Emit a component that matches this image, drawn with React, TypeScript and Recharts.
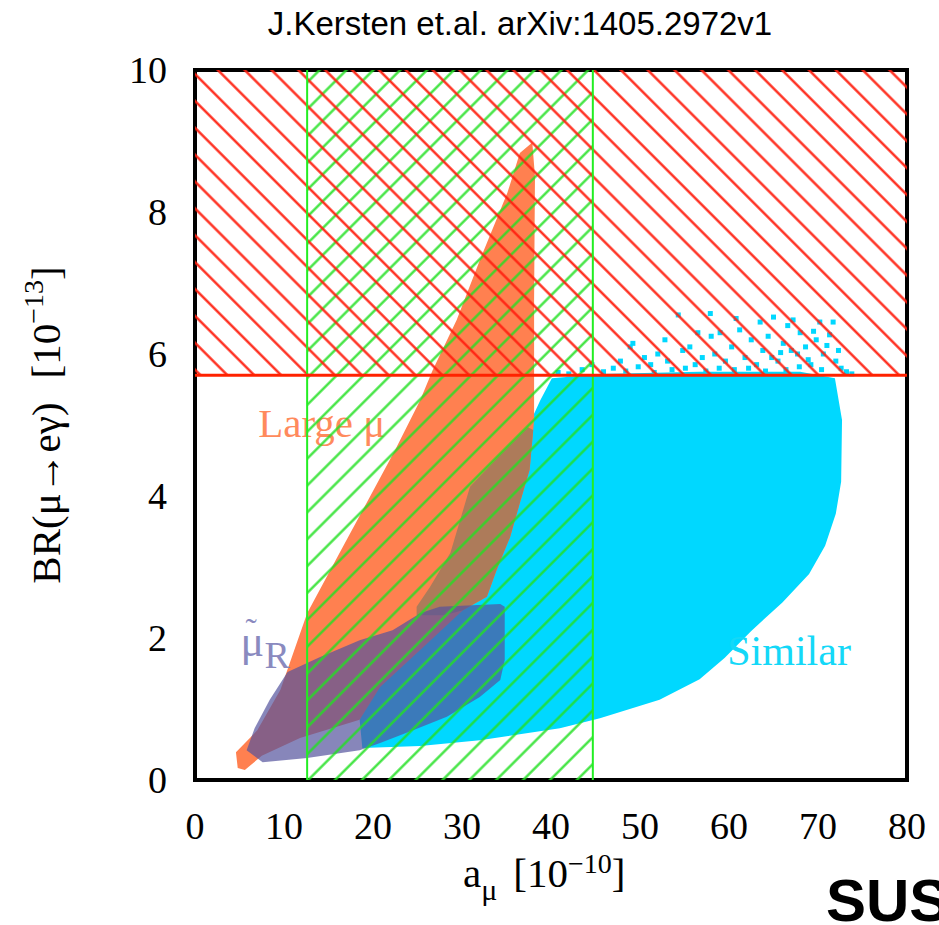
import { Scatter, ScatterChart, XAxis, YAxis } from "recharts";

// axis ticks
const xTicks = [0, 10, 20, 30, 40, 50, 60, 70, 80];
const yTicks = [0, 2, 4, 6, 8, 10];

// experimental bounds
const brLimit = 5.7; // MEG bound on BR(mu -> e gamma), 10^-13
const amuBand = [12.6, 44.7]; // 2 sigma band for a_mu, 10^-10

// scan regions, outlines (a_mu, BR)
const similarRegion = [
  { x: 37.4, y: 4.97 }, { x: 38.8, y: 5.35 }, { x: 40.1, y: 5.66 }, { x: 45.5, y: 5.72 },
  { x: 56.7, y: 5.75 }, { x: 68.0, y: 5.75 }, { x: 71.9, y: 5.66 }, { x: 72.7, y: 5.07 },
  { x: 72.6, y: 4.2 }, { x: 72.0, y: 3.75 }, { x: 70.8, y: 3.3 }, { x: 69.0, y: 2.9 },
  { x: 66.0, y: 2.5 }, { x: 62.5, y: 2.1 }, { x: 59.5, y: 1.72 }, { x: 56.7, y: 1.42 },
  { x: 52.2, y: 1.13 }, { x: 45.5, y: 0.87 }, { x: 41.0, y: 0.73 }, { x: 32.0, y: 0.56 },
  { x: 25.3, y: 0.48 }, { x: 18.8, y: 0.45 }, { x: 18.5, y: 0.85 }, { x: 19.7, y: 1.27 },
  { x: 22.2, y: 1.83 }, { x: 24.9, y: 2.44 }, { x: 26.4, y: 2.72 }, { x: 28.7, y: 3.2 },
  { x: 30.9, y: 4.13 }, { x: 34.3, y: 4.58 },
];

const largeMuRegion = [
  { x: 4.8, y: 0.17 }, { x: 4.6, y: 0.39 }, { x: 7.0, y: 0.7 }, { x: 9.6, y: 1.27 },
  { x: 12.6, y: 2.35 }, { x: 16.3, y: 3.21 }, { x: 19.7, y: 4.0 }, { x: 22.5, y: 4.65 },
  { x: 25.3, y: 5.35 }, { x: 26.7, y: 5.77 }, { x: 29.4, y: 6.48 }, { x: 32.0, y: 7.32 },
  { x: 35.1, y: 8.27 }, { x: 36.5, y: 8.83 }, { x: 37.9, y: 8.98 }, { x: 38.2, y: 8.5 },
  { x: 38.1, y: 6.76 }, { x: 38.1, y: 5.07 }, { x: 37.6, y: 4.37 }, { x: 36.5, y: 3.9 },
  { x: 35.4, y: 3.42 }, { x: 33.9, y: 2.96 }, { x: 32.8, y: 2.58 }, { x: 30.1, y: 2.39 },
  { x: 25.3, y: 1.83 }, { x: 20.8, y: 1.31 }, { x: 18.5, y: 0.85 }, { x: 11.8, y: 0.59 },
  { x: 7.5, y: 0.34 }, { x: 5.6, y: 0.14 },
];

// where Large mu lies on top of Similar
const overlapRegion = [
  { x: 37.4, y: 4.97 }, { x: 38.0, y: 4.93 }, { x: 37.6, y: 4.37 }, { x: 36.5, y: 3.9 },
  { x: 35.4, y: 3.42 }, { x: 33.9, y: 2.96 }, { x: 32.8, y: 2.58 }, { x: 30.1, y: 2.39 },
  { x: 28.0, y: 2.32 }, { x: 24.9, y: 2.32 }, { x: 24.9, y: 2.44 }, { x: 26.4, y: 2.72 },
  { x: 28.7, y: 3.2 }, { x: 30.9, y: 4.13 }, { x: 34.3, y: 4.58 },
];

const muRRegion = [
  { x: 5.8, y: 0.42 }, { x: 7.6, y: 0.25 }, { x: 12.6, y: 0.31 }, { x: 18.5, y: 0.42 },
  { x: 20.8, y: 0.52 }, { x: 24.5, y: 0.7 }, { x: 28.3, y: 0.89 }, { x: 32.0, y: 1.17 },
  { x: 34.3, y: 1.41 }, { x: 34.8, y: 1.69 }, { x: 34.8, y: 2.44 }, { x: 34.3, y: 2.48 },
  { x: 27.5, y: 2.44 }, { x: 25.3, y: 2.35 }, { x: 22.2, y: 2.11 }, { x: 18.5, y: 1.97 },
  { x: 14.0, y: 1.73 }, { x: 10.4, y: 1.52 }, { x: 8.4, y: 1.13 }, { x: 6.7, y: 0.73 },
];

// loose Similar points above the bound
const similarSpray = [
  { x: 40.8, y: 5.74 }, { x: 42.0, y: 5.72 }, { x: 43.5, y: 5.78 }, { x: 44.6, y: 5.85 },
  { x: 45.9, y: 5.75 }, { x: 47.0, y: 5.8 }, { x: 47.8, y: 5.9 }, { x: 48.4, y: 5.76 },
  { x: 48.9, y: 6.1 }, { x: 49.2, y: 6.15 }, { x: 49.8, y: 5.82 }, { x: 50.5, y: 5.95 },
  { x: 51.2, y: 5.85 }, { x: 51.6, y: 5.74 }, { x: 52.0, y: 6.0 }, { x: 52.8, y: 6.2 },
  { x: 53.1, y: 5.9 }, { x: 53.6, y: 5.78 }, { x: 54.3, y: 6.55 }, { x: 54.8, y: 6.05 },
  { x: 55.1, y: 5.8 }, { x: 55.6, y: 6.1 }, { x: 56.2, y: 5.85 }, { x: 56.5, y: 6.3 },
  { x: 57.0, y: 5.95 }, { x: 57.4, y: 5.76 }, { x: 57.9, y: 6.57 }, { x: 58.0, y: 6.25 },
  { x: 58.4, y: 6.0 }, { x: 58.9, y: 5.8 }, { x: 59.0, y: 6.3 }, { x: 59.6, y: 5.9 },
  { x: 60.3, y: 6.1 }, { x: 60.6, y: 5.78 }, { x: 60.8, y: 6.5 }, { x: 61.2, y: 6.34 },
  { x: 61.8, y: 5.95 }, { x: 62.2, y: 5.8 }, { x: 62.5, y: 6.2 }, { x: 63.1, y: 5.85 },
  { x: 63.5, y: 6.45 }, { x: 63.8, y: 6.05 }, { x: 64.1, y: 5.76 }, { x: 64.4, y: 6.25 },
  { x: 64.8, y: 5.95 }, { x: 65.0, y: 6.52 }, { x: 65.5, y: 5.9 }, { x: 65.8, y: 6.02 },
  { x: 66.1, y: 6.15 }, { x: 66.4, y: 5.78 }, { x: 66.6, y: 6.4 }, { x: 67.0, y: 6.05 },
  { x: 67.2, y: 6.48 }, { x: 67.7, y: 6.0 }, { x: 67.9, y: 5.82 }, { x: 68.0, y: 6.3 },
  { x: 68.6, y: 6.1 }, { x: 68.9, y: 5.92 }, { x: 69.2, y: 5.85 }, { x: 69.5, y: 6.32 },
  { x: 69.8, y: 6.2 }, { x: 70.2, y: 6.45 }, { x: 70.4, y: 5.78 }, { x: 70.6, y: 6.0 },
  { x: 71.0, y: 6.12 }, { x: 71.3, y: 6.27 }, { x: 71.7, y: 6.45 }, { x: 72.0, y: 5.9 },
  { x: 72.3, y: 6.05 }, { x: 72.6, y: 5.8 }, { x: 73.2, y: 5.75 }, { x: 73.8, y: 5.72 },
];

const largeMuLabel = [{ x: 7.1, y: 4.83 }];
const muRLabel = [{ x: 5.1, y: 1.75 }];
const similarLabel = [{ x: 59.8, y: 1.62 }];

const xMin = xTicks[0];
const xMax = xTicks[xTicks.length - 1];
const yMin = yTicks[0];
const yMax = yTicks[yTicks.length - 1];

const megZone = [
  { x: xMin, y: brLimit }, { x: xMax, y: brLimit }, { x: xMax, y: yMax }, { x: xMin, y: yMax },
];
const amuZone = [
  { x: amuBand[0], y: yMin }, { x: amuBand[1], y: yMin }, { x: amuBand[1], y: yMax }, { x: amuBand[0], y: yMax },
];
const megLine = [{ x: xMin, y: brLimit }, { x: xMax, y: brLimit }];
const amuLow = [{ x: amuBand[0], y: yMin }, { x: amuBand[0], y: yMax }];
const amuHigh = [{ x: amuBand[1], y: yMin }, { x: amuBand[1], y: yMax }];

const serif = '"Liberation Serif", "Times New Roman", serif';
const sans = '"Liberation Sans", Arial, sans-serif';

const noDot = () => <g />;

function region(key: string, data: { x: number; y: number }[], line: object) {
  return (
    <Scatter
      key={key}
      data={data}
      xAxisId="x"
      yAxisId="y"
      shape={noDot}
      line={line}
      lineJointType="linear"
      isAnimationActive={false}
    />
  );
}

export default function App() {
  return (
    <div style={{ position: "absolute", left: 0, top: 0, width: 939, height: 925, background: "#fff", overflow: "hidden" }}>
      <ScatterChart width={939} height={925} margin={{ top: 70, right: 32, bottom: 85, left: 115 }}>
        <defs>
          <pattern id="megHatch" patternUnits="userSpaceOnUse" width={19} height={19} patternTransform="rotate(-45)">
            <line x1={9.5} y1={0} x2={9.5} y2={19} stroke="#ff2010" strokeWidth={2.3} />
          </pattern>
          <pattern id="amuHatch" patternUnits="userSpaceOnUse" width={19} height={19} patternTransform="rotate(45)">
            <line x1={9.5} y1={0} x2={9.5} y2={19} stroke="#22e022" strokeOpacity={0.9} strokeWidth={2.3} />
          </pattern>
        </defs>
        <XAxis
          xAxisId="x"
          type="number"
          dataKey="x"
          domain={[xMin, xMax]}
          ticks={xTicks}
          interval={0}
          height={60}
          tickSize={0}
          tickMargin={32}
          tickLine={false}
          axisLine={{ stroke: "#000", strokeWidth: 4, strokeLinecap: "square" }}
          tick={{ fill: "#000", fontSize: 38, fontFamily: serif }}
        />
        <XAxis xAxisId="xb" type="number" domain={[xMin, xMax]} ticks={xTicks} interval={0} mirror tick={false}
          tickSize={17} tickLine={{ stroke: "#000", strokeWidth: 3 }} axisLine={false} />
        <XAxis xAxisId="xt" orientation="top" type="number" domain={[xMin, xMax]} ticks={xTicks} interval={0} mirror tick={false}
          tickSize={17} tickLine={{ stroke: "#000", strokeWidth: 3 }}
          axisLine={{ stroke: "#000", strokeWidth: 4, strokeLinecap: "square" }} />
        <YAxis
          yAxisId="y"
          type="number"
          dataKey="y"
          domain={[yMin, yMax]}
          ticks={yTicks}
          interval={0}
          width={80}
          tickSize={0}
          tickMargin={28}
          tickLine={false}
          axisLine={{ stroke: "#000", strokeWidth: 4, strokeLinecap: "square" }}
          tick={{ fill: "#000", fontSize: 38, fontFamily: serif }}
        />
        <YAxis yAxisId="yl" type="number" domain={[yMin, yMax]} ticks={yTicks} interval={0} mirror tick={false}
          tickSize={17} tickLine={{ stroke: "#000", strokeWidth: 3 }} axisLine={false} />
        <YAxis yAxisId="yr" orientation="right" type="number" domain={[yMin, yMax]} ticks={yTicks} interval={0} mirror tick={false}
          tickSize={17} tickLine={{ stroke: "#000", strokeWidth: 3 }}
          axisLine={{ stroke: "#000", strokeWidth: 4, strokeLinecap: "square" }} />

        {region("similar", similarRegion, { fill: "#00d8ff", stroke: "none" })}
        <Scatter
          data={similarSpray}
          xAxisId="x"
          yAxisId="y"
          isAnimationActive={false}
          shape={(p: any) => <rect x={p.cx - 2.5} y={p.cy - 2.5} width={5} height={5} fill="#00d8ff" />}
        />
        {region("largeMu", largeMuRegion, { fill: "#ff8050", stroke: "none" })}
        {region("overlap", overlapRegion, { fill: "#ad7b5a", stroke: "none" })}
        {region("muR", muRRegion, { fill: "#54539d", fillOpacity: 0.7, stroke: "none" })}

        <Scatter
          data={largeMuLabel}
          xAxisId="x"
          yAxisId="y"
          isAnimationActive={false}
          shape={(p: any) => (
            <text x={p.cx} y={p.cy} fill="#ff8a5c" fontSize={41} fontFamily={serif}>Large μ</text>
          )}
        />
        <Scatter
          data={muRLabel}
          xAxisId="x"
          yAxisId="y"
          isAnimationActive={false}
          shape={(p: any) => (
            <g fill="#8a8abf" fontFamily={serif}>
              <text x={p.cx} y={p.cy} fontSize={44}>μ</text>
              <text x={p.cx + 5} y={p.cy - 14} fontSize={34}>˜</text>
              <text x={p.cx + 24} y={p.cy + 12} fontSize={38}>R</text>
            </g>
          )}
        />
        <Scatter
          data={similarLabel}
          xAxisId="x"
          yAxisId="y"
          isAnimationActive={false}
          shape={(p: any) => (
            <text x={p.cx} y={p.cy} fill="#14d8f8" fontSize={42} fontFamily={serif}>Similar</text>
          )}
        />

        {region("amuZone", amuZone, { fill: "url(#amuHatch)", stroke: "none" })}
        {region("megZone", megZone, { fill: "url(#megHatch)", stroke: "none" })}
        {region("amuLow", amuLow, { fill: "none", stroke: "#22ee22", strokeWidth: 2 })}
        {region("amuHigh", amuHigh, { fill: "none", stroke: "#22ee22", strokeWidth: 2 })}
        {region("megLine", megLine, { fill: "none", stroke: "#ff2200", strokeWidth: 3 })}
      </ScatterChart>

      <div style={{ position: "absolute", left: 0, top: 5, width: 1040, textAlign: "center", fontFamily: sans, fontSize: 33, color: "#000" }}>
        J.Kersten et.al. arXiv:1405.2972v1
      </div>
      <div
        style={{
          position: "absolute",
          left: 48,
          top: 425,
          transform: "translate(-50%, -50%) rotate(-90deg)",
          whiteSpace: "nowrap",
          fontFamily: serif,
          fontSize: 41,
          lineHeight: "44px",
          color: "#000",
        }}
      >
        BR(μ→eγ)
        <span style={{ marginLeft: 24 }}>
          [10<span style={{ fontSize: 28, position: "relative", top: -17 }}>−13</span>]
        </span>
      </div>
      <div style={{ position: "absolute", left: 463, top: 851, whiteSpace: "nowrap", fontFamily: serif, fontSize: 41, lineHeight: "44px", color: "#000" }}>
        a<span style={{ fontSize: 30, position: "relative", top: 13 }}>μ</span>
        <span style={{ marginLeft: 16 }}>
          [10<span style={{ fontSize: 28, position: "relative", top: -14 }}>−10</span>]
        </span>
      </div>
      <div style={{ position: "absolute", left: 826, top: 866, whiteSpace: "nowrap", fontFamily: sans, fontWeight: 700, fontSize: 60, lineHeight: "70px", color: "#000" }}>
        SUSY
      </div>
    </div>
  );
}
